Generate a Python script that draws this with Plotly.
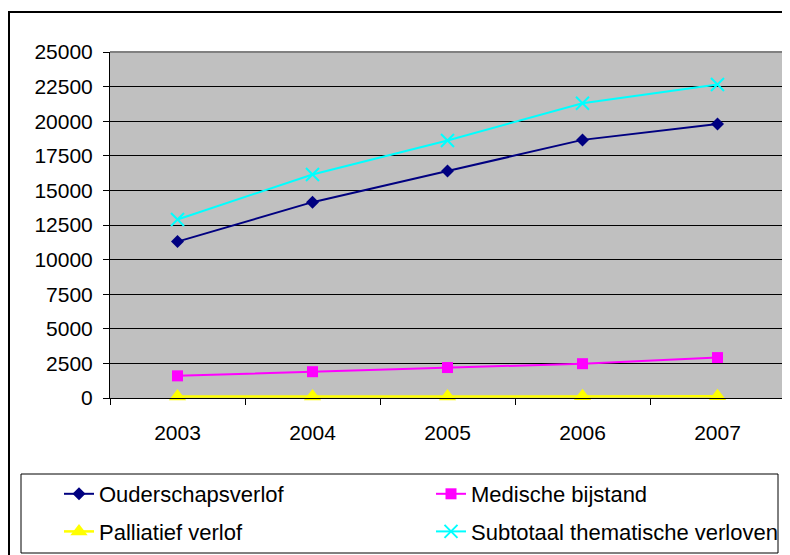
import plotly.graph_objects as go

years = ["2003", "2004", "2005", "2006", "2007"]
ouderschapsverlof = [11300, 14150, 16400, 18650, 19800]
medische_bijstand = [1600, 1900, 2200, 2480, 2920]
palliatief_verlof = [100, 110, 110, 120, 120]
subtotaal = [12900, 16150, 18600, 21300, 22650]

y_ticks = list(range(0, 25001, 2500))

FONT = "Liberation Sans, Arial, sans-serif"
OFF = 8  # page body margin offset
W, H = 790 - OFF, 555 - OFF
# plot area in window pixels: x 110..785, y 52..398
ML, MR, MT, MB = 110 - OFF, 790 - 785, 52 - OFF, 555 - 398
PW = W - ML - MR
PH = H - MT - MB


def px_x(x):
    return (x - OFF - ML) / PW


def px_y(y):
    return (H - MB - (y - OFF)) / PH


fig = go.Figure()

fig.add_trace(go.Scatter(
    x=years, y=ouderschapsverlof, name="Ouderschapsverlof", mode="lines+markers",
    line=dict(color="#000080", width=2),
    marker=dict(symbol="diamond", size=10, color="#000080"),
    cliponaxis=False, legend="legend", legendgroup="a"))
fig.add_trace(go.Scatter(
    x=years, y=palliatief_verlof, name="Palliatief verlof", mode="lines+markers",
    line=dict(color="#FFFF00", width=2.5),
    marker=dict(symbol="triangle-up", size=15, color="#FFFF00"),
    cliponaxis=False, legend="legend", legendgroup="b"))
fig.add_trace(go.Scatter(
    x=years, y=medische_bijstand, name="Medische bijstand", mode="lines+markers",
    line=dict(color="#FF00FF", width=2),
    marker=dict(symbol="square", size=11, color="#FF00FF"),
    cliponaxis=False, legend="legend2", legendgroup="c"))
fig.add_trace(go.Scatter(
    x=years, y=subtotaal, name="Subtotaal thematische verloven", mode="lines+markers",
    line=dict(color="#00FFFF", width=2),
    marker=dict(symbol="x-thin", size=13, color="#00FFFF",
                line=dict(color="#00FFFF", width=2)),
    cliponaxis=False, legend="legend2", legendgroup="d"))

legend_common = dict(
    orientation="v", yanchor="top", xanchor="left",
    bgcolor="rgba(0,0,0,0)", borderwidth=0,
    font=dict(family=FONT, size=22, color="black"),
    tracegroupgap=6, traceorder="grouped",
)

fig.update_layout(
    width=W, height=H,
    margin=dict(l=ML, r=MR, t=MT, b=MB, pad=0, autoexpand=False),
    paper_bgcolor="white", plot_bgcolor="#C0C0C0",
    font=dict(family=FONT, size=21, color="black"),
    showlegend=True,
    legend=dict(x=px_x(59), y=px_y(473), **legend_common),
    legend2=dict(x=px_x(431), y=px_y(473), **legend_common),
    xaxis=dict(
        type="category", showgrid=False, zeroline=False,
        showline=True, linecolor="black", linewidth=1,
        ticks="outside", ticklen=6, tickcolor="black", tickson="boundaries",
        range=[-0.5, 4.5], ticklabelstandoff=16,
        tickfont=dict(family=FONT, size=21, color="black"),
    ),
    yaxis=dict(
        range=[0, 25000], tickvals=y_ticks, ticktext=[str(v) for v in y_ticks],
        showgrid=True, gridcolor="black", gridwidth=1, zeroline=False,
        showline=True, linecolor="black", linewidth=1,
        ticks="outside", ticklen=6, tickcolor="black", ticklabelstandoff=6,
        tickfont=dict(family=FONT, size=21, color="black"),
    ),
    shapes=[
        # plot-area border (top/right grey)
        dict(type="line", xref="paper", yref="paper", x0=0, x1=1, y0=1, y1=1,
             line=dict(color="#808080", width=2), layer="above"),
        dict(type="line", xref="paper", yref="paper", x0=1, x1=1, y0=0, y1=1,
             line=dict(color="#808080", width=2), layer="above"),
        # outer chart frame
        dict(type="rect", xref="paper", yref="paper",
             x0=px_x(9), x1=px_x(800), y0=px_y(12), y1=px_y(570),
             line=dict(color="black", width=2), layer="below"),
        # legend box
        dict(type="rect", xref="paper", yref="paper",
             x0=px_x(21), x1=px_x(778), y0=px_y(474), y1=px_y(553),
             line=dict(color="black", width=1), layer="below"),
    ],
)

fig.write_html("out.html")
